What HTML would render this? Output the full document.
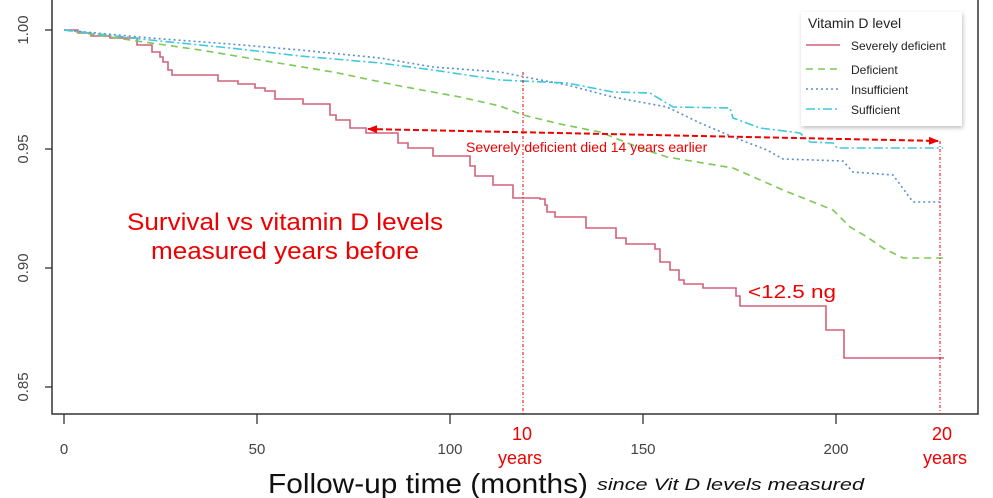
<!DOCTYPE html>
<html><head><meta charset="utf-8"><style>
html,body{margin:0;padding:0;background:#fff;}
svg{display:block;font-family:"Liberation Sans",Arial,sans-serif;}
</style></head><body>
<svg width="993" height="498" viewBox="0 0 993 498" xmlns="http://www.w3.org/2000/svg">
<defs>
<marker id="ah" markerWidth="10" markerHeight="8" refX="9" refY="4" orient="auto" markerUnits="userSpaceOnUse"><path d="M0,0 L10,4 L0,8 z" fill="#e00"/></marker>
<marker id="ah2" markerWidth="10" markerHeight="8" refX="1" refY="4" orient="auto" markerUnits="userSpaceOnUse"><path d="M10,0 L0,4 L10,8 z" fill="#e00"/></marker>
<filter id="sh" x="-10%" y="-10%" width="130%" height="130%"><feDropShadow dx="1" dy="2" stdDeviation="2" flood-color="#000" flood-opacity="0.25"/></filter>
</defs>
<path d="M52,0 V414 H978 V0" fill="none" stroke="#333" stroke-width="1.5"/>
<g stroke="#333" stroke-width="1.3">
<line x1="45" y1="30" x2="52" y2="30"/><line x1="45" y1="149" x2="52" y2="149"/>
<line x1="45" y1="268" x2="52" y2="268"/><line x1="45" y1="387" x2="52" y2="387"/>
<line x1="64" y1="414" x2="64" y2="424"/><line x1="257" y1="414" x2="257" y2="424"/>
<line x1="450" y1="414" x2="450" y2="424"/><line x1="643" y1="414" x2="643" y2="424"/>
<line x1="836" y1="414" x2="836" y2="424"/>
</g>
<g fill="#444" font-size="15" text-anchor="middle">
<text transform="translate(28,30) rotate(-90)">1.00</text>
<text transform="translate(28,149) rotate(-90)">0.95</text>
<text transform="translate(28,268) rotate(-90)">0.90</text>
<text transform="translate(28,387) rotate(-90)">0.85</text>
<text x="64" y="454">0</text><text x="257" y="454">50</text><text x="450" y="454">100</text>
<text x="643" y="454">150</text><text x="836" y="454">200</text>
</g>
<path d="M64,30 H78 V33 H91 V36 H110 V38 H137 V45 H152 V52 H160 V57 H163 V62 H168 V70 H172 V75 H218 V81 H238 V84 H255 V88 H265 V91 H275 V99 H303 V104 H330 V115 H336 V120 H350 V128 H366 V133 H398 V143 H408 V148 H433 V156 H470 V166 H475 V176 H493 V185 H513 V198 H540 V199 H545 V205 H547 V212 H555 V217 H586 V228 H616 V238 H626 V244 H655 V249 H660 V262 H670 V270 H679 V280 H684 V284 H703 V288 H736 V296 H740 V306 H826 V330 H844 V358 H944" fill="none" stroke="#d4607a" stroke-width="1.6"/>
<path d="M64,30 L130,40 L200,50 L260,60 L333,72 L400,86 L460,97 L500,106 L523,115 L560,124 L600,132 L640,148 L667,157 L733,168 L783,190 L833,210 L850,227 L867,237 L883,248 L903,258 H943" fill="none" stroke="#7cc855" stroke-width="1.6" stroke-dasharray="7,5"/>
<path d="M64,30 L150,38 L230,44 L300,50 L380,58 L433,67 L500,72 L525,77 L567,85 L613,97 L667,107 L700,123 L733,137 L767,150 L783,159 L843,161 L853,172 L893,175 L913,202 H943" fill="none" stroke="#5b8fd0" stroke-width="1.6" stroke-dasharray="2,3"/>
<path d="M64,30 L150,40 L230,48 L300,56 L380,63 L433,70 L500,80 L567,83 L613,92 L650,93 L673,107 L730,108 L733,118 L760,128 L800,133 L810,142 L833,143 L837,148 H943" fill="none" stroke="#40c8dc" stroke-width="1.6" stroke-dasharray="9,3,2,3"/>
<line x1="523" y1="72" x2="523" y2="414" stroke="#e00" stroke-width="1" stroke-dasharray="3,2,1,2"/>
<line x1="940" y1="141" x2="940" y2="414" stroke="#e00" stroke-width="1" stroke-dasharray="3,2,1,2"/>
<line x1="368" y1="129" x2="938" y2="141" stroke="#e00" stroke-width="2" stroke-dasharray="6,3" marker-start="url(#ah2)" marker-end="url(#ah)"/>
<g fill="#e00">
<text x="466" y="152" font-size="14">Severely deficient died 14 years earlier</text>
<text x="127" y="230" font-size="24" textLength="316" lengthAdjust="spacingAndGlyphs">Survival vs vitamin D levels</text>
<text x="151" y="259" font-size="24" textLength="268" lengthAdjust="spacingAndGlyphs">measured years before</text>
<text x="748" y="298" font-size="18" textLength="88" lengthAdjust="spacingAndGlyphs">&lt;12.5 ng</text>
<text x="522" y="440" font-size="18" text-anchor="middle">10</text>
<text x="520" y="464" font-size="18" text-anchor="middle">years</text>
<text x="942" y="440" font-size="18" text-anchor="middle">20</text>
<text x="945" y="464" font-size="18" text-anchor="middle">years</text>
</g>
<text x="268" y="493" font-size="28" fill="#111" textLength="320" lengthAdjust="spacingAndGlyphs">Follow-up time (months)</text>
<text x="597" y="490" font-size="17" font-style="italic" fill="#111" textLength="267" lengthAdjust="spacingAndGlyphs">since Vit D levels measured</text>
<rect x="801" y="12" width="161" height="114" fill="#fff" filter="url(#sh)"/>
<text x="808" y="28" font-size="14" fill="#222">Vitamin D level</text>
<line x1="806" y1="45" x2="840" y2="45" stroke="#d4607a" stroke-width="1.6"/>
<line x1="806" y1="69" x2="840" y2="69" stroke="#7cc855" stroke-width="1.6" stroke-dasharray="7,5"/>
<line x1="806" y1="89" x2="840" y2="89" stroke="#5b8fd0" stroke-width="1.6" stroke-dasharray="2,3"/>
<line x1="806" y1="109" x2="840" y2="109" stroke="#40c8dc" stroke-width="1.6" stroke-dasharray="9,3,2,3"/>
<g font-size="12" fill="#222">
<text x="851" y="50">Severely deficient</text>
<text x="851" y="74">Deficient</text>
<text x="851" y="94">Insufficient</text>
<text x="851" y="114">Sufficient</text>
</g>
</svg>
</body></html>
